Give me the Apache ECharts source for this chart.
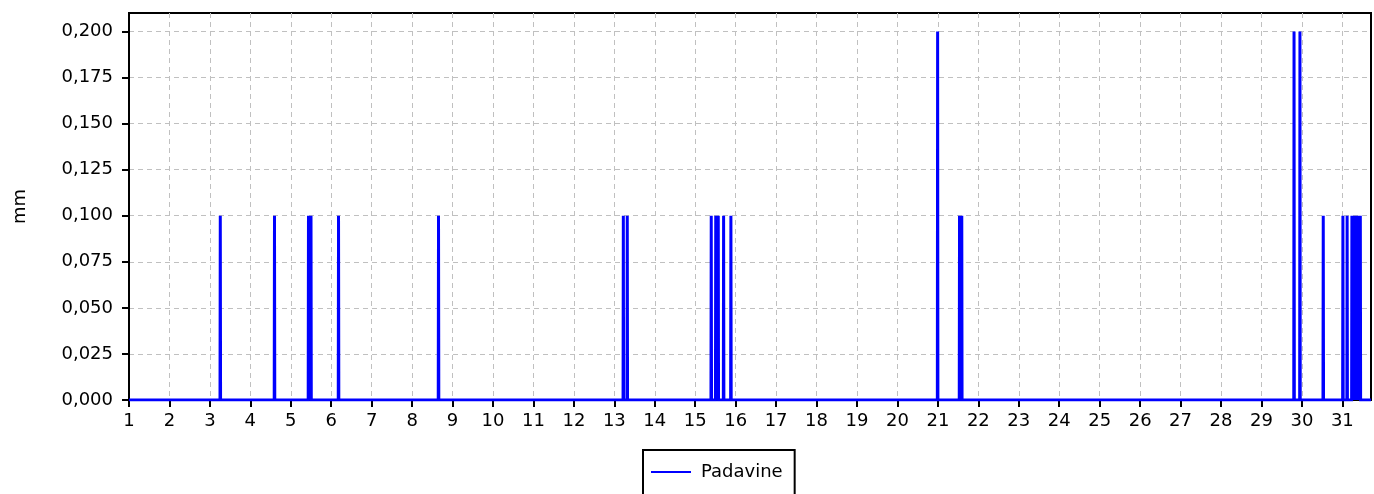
<!DOCTYPE html>
<html>
<head>
<meta charset="utf-8">
<script src="https://cdn.jsdelivr.net/npm/echarts@6/dist/echarts.min.js"></script>
<style>
  html, body { margin: 0; padding: 0; background: #fff; }
  #chart { width: 1374px; height: 494px; }
</style>
</head>
<body>
<div id="chart"></div>
<script>
// Rain gauge record, 10-minute totals: only the wet intervals are listed,
// every other 10-minute interval of the month is dry (0 mm).
const wetDay  = [3, 4, 5, 5, 6, 8, 13, 13, 15, 15, 15, 15, 15, 20, 21, 21, 29, 29, 30, 31, 31, 31, 31, 31, 31, 31];
const wetTime = ['06:10', '14:20', '10:30', '12:00', '04:20', '15:40', '05:20', '07:40',
                 '09:30', '12:10', '13:40', '16:50', '21:10', '23:50', '12:50', '14:10',
                 '19:20', '22:50', '12:40', '00:20', '02:50', '05:40', '06:50', '08:00', '09:10', '10:40'];
const wetMm   = [0.1, 0.1, 0.1, 0.1, 0.1, 0.1, 0.1, 0.1, 0.1, 0.1, 0.1, 0.1, 0.1, 0.2, 0.1, 0.1,
                 0.2, 0.2, 0.1, 0.1, 0.1, 0.1, 0.1, 0.1, 0.1, 0.1];

// Record period: 1st 00:00 up to 31st 17:00 (x in days of the month)
const periodStart = 1;
const periodEnd = 31 + 17 / 24;

const dayTicks = [];
for (let d = 1; d <= 31; d++) dayTicks.push(d);
const mmTicks = [0, 0.025, 0.05, 0.075, 0.1, 0.125, 0.15, 0.175, 0.2];

// Series points: each wet interval sits between two dry neighbours.
const STEP = 10 / 1440;
const toDays = (day, hhmm) => {
  const [h, m] = hhmm.split(':').map(Number);
  return day + (h * 60 + m) / 1440;
};
const padavine = [[periodStart, 0]];
for (let i = 0; i < wetDay.length; i++) {
  const t = toDays(wetDay[i], wetTime[i]);
  padavine.push([t - STEP, 0], [t, wetMm[i]], [t + STEP, 0]);
}
padavine.push([periodEnd, 0]);

const font = 'DejaVu Sans';
const gridLine = { show: true, lineStyle: { color: '#c0c0c0', width: 1, type: [5, 4] } };
const chart = echarts.init(document.getElementById('chart'), null, { renderer: 'canvas' });
chart.setOption({
  animation: false,
  backgroundColor: '#ffffff',
  textStyle: { fontFamily: font },
  grid: {
    left: 129, right: 3, top: 13, bottom: 94,
    show: true, borderColor: '#000', borderWidth: 2, backgroundColor: 'transparent'
  },
  legend: {
    data: [{ name: 'Padavine', icon: 'rect' }],
    left: 643, top: 450,
    orient: 'horizontal',
    borderColor: '#000', borderWidth: 2, borderRadius: 0,
    padding: [13, 12, 20, 8],
    itemWidth: 40, itemHeight: 2,
    itemStyle: { color: '#0000ff' },
    textStyle: { fontFamily: font, fontSize: 18, color: '#000', padding: [0, 0, 0, 5] }
  },
  xAxis: {
    type: 'value',
    min: periodStart, max: periodEnd, interval: 1,
    axisLine: { show: true, onZero: false, lineStyle: { color: '#000', width: 2 } },
    axisTick: { show: true, length: 7, customValues: dayTicks, lineStyle: { color: '#000', width: 2 } },
    axisLabel: {
      customValues: dayTicks,
      fontFamily: font, fontSize: 18, color: '#000', margin: 12,
      formatter: v => String(v)
    },
    splitLine: gridLine
  },
  yAxis: {
    type: 'value',
    min: 0, max: 0.21, interval: 0.025,
    name: 'mm', nameLocation: 'middle', nameGap: 100, nameRotate: 90,
    nameTextStyle: { fontFamily: font, fontSize: 18, color: '#000' },
    axisLine: { show: true, lineStyle: { color: '#000', width: 2 } },
    axisTick: { show: true, length: 7, customValues: mmTicks, lineStyle: { color: '#000', width: 2 } },
    axisLabel: {
      customValues: mmTicks,
      fontFamily: font, fontSize: 18, color: '#000', margin: 16,
      formatter: v => v.toFixed(3).replace('.', ',')
    },
    splitLine: gridLine
  },
  series: [{
    name: 'Padavine',
    type: 'line',
    data: padavine,
    symbol: 'none',
    lineStyle: { color: '#0000ff', width: 3, join: 'miter' },
    itemStyle: { color: '#0000ff' }
  }]
});
</script>
</body>
</html>
